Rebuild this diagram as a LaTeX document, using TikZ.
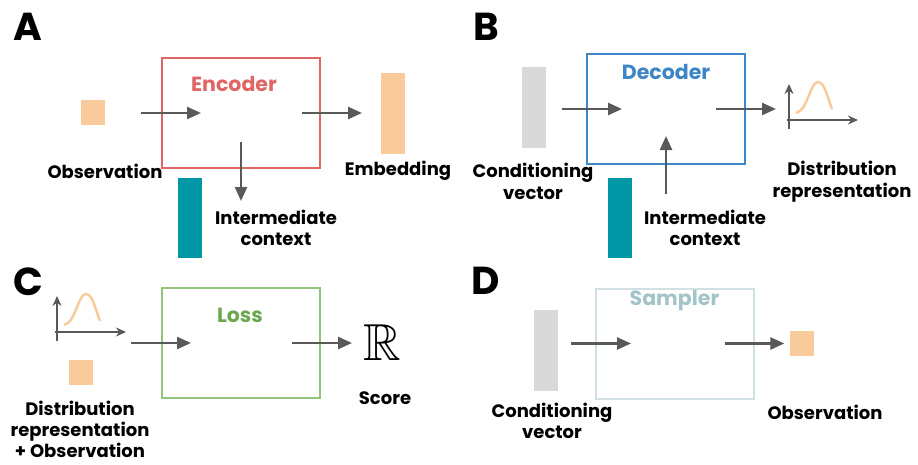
\documentclass[tikz,border=0pt]{standalone}
\usepackage{amsfonts}
\usepackage{fontspec}
\setmainfont{Poppins}
\usepackage{tikz}
\usetikzlibrary{positioning,arrows.meta}

\definecolor{encred}{HTML}{E06666}
\definecolor{decblue}{HTML}{3D85C6}
\definecolor{lossline}{HTML}{93C47D}
\definecolor{losstext}{HTML}{6AA84F}
\definecolor{sampline}{HTML}{D0E0E3}
\definecolor{samptext}{HTML}{A2C4C9}
\definecolor{peach}{HTML}{F9CB9C}
\definecolor{ctxteal}{HTML}{0097A7}
\definecolor{condgray}{HTML}{D9D9D9}
\definecolor{arrowgray}{HTML}{595959}

\tikzset{distplot/.pic={
  \draw[axis] (0,9) -- (0,-36);
  \draw[axis] (-2,0) -- (69,0);
  \draw[peach, line width=2.5pt] (7,-7) .. controls (19,-10) and (21,-38) .. (29,-38)
    .. controls (36,-38) and (39,-20) .. (43,-11);
}}

\begin{document}
\begin{tikzpicture} [x=1pt, y=-1pt,
  every node/.style={inner sep=0pt, align=center},
  label/.style={font=\bfseries\fontsize{18}{21.5}\selectfont},
  panel/.style={font=\bfseries\fontsize{39}{39}\selectfont},
  title/.style={font=\bfseries\fontsize{20.5}{20.5}\selectfont},
  block/.style={draw, line width=2pt, minimum width=158pt, minimum height=110pt},
  bar/.style={minimum width=24pt, minimum height=81pt},
  cell/.style={fill=peach, minimum width=24pt, minimum height=25pt},
  flow/.style={draw=arrowgray, line width=2.5pt, -{Triangle[length=14pt,width=12pt]}},
  axis/.style={draw=arrowgray, line width=2pt, -{Stealth[length=10pt,width=9pt]}}]
\useasboundingbox (0,0) rectangle (918,464);

% A: encoder
\node[panel] (pa) at (28,27) {A};
\node[block, draw=encred] (enc) at (241,113) {};
\node[title, text=encred] (enct) at (234,84) {Encoder};
\node[cell] (obsa) at (93,112.5) {};
\node[bar, fill=peach] (emb) at (393,113.5) {};
\node[bar, fill=ctxteal, minimum height=80pt] (ctxa) at (190,218) {};
\node[label] (obsal) at (105,171) {Observation};
\node[label] (embl) at (398,171) {Embedding};
\node[label] (ctxal) at (276,228) {Intermediate\\context};
\draw[flow] ([xshift=-20pt]enc.west) -- ([xshift=40pt]enc.west);
\draw[flow] ([xshift=-19pt]enc.east) -- ([xshift=41pt]enc.east);
\draw[flow] ([yshift=27pt]enc.south) -- ([yshift=-32pt]enc.south);

% B: decoder
\node[panel] (pb) at (486,27) {B};
\node[block, draw=decblue] (dec) at (666,109) {};
\node[title, text=decblue] (dect) at (666,72) {Decoder};
\node[bar, fill=condgray] (condb) at (534,107.5) {};
\node[bar, fill=ctxteal, minimum height=80pt] (ctxb) at (620,218) {};
\pic at (789,120) {distplot};
\node[label] (condbl) at (533,181.5) {Conditioning\\vector};
\node[label] (ctxbl) at (705,228) {Intermediate\\context};
\node[label] (distl) at (842,181.5) {Distribution\\representation};
\draw[flow] ([xshift=-24pt]dec.west) -- ([xshift=36pt]dec.west);
\draw[flow] ([xshift=-30pt]dec.east) -- ([xshift=30pt]dec.east);
\draw[flow] ([yshift=-29pt]dec.south) -- ([yshift=29pt]dec.south);

% C: loss
\node[panel] (pc) at (28,282) {C};
\node[block, draw=lossline] (loss) at (241,343) {};
\node[title, text=losstext] (losst) at (240,315) {Loss};
\pic at (57,332) {distplot};
\node[cell] (obsc) at (80.5,372.5) {};
\node (score) at (382,343) {\fontsize{52}{52}\selectfont$\mathbb{R}$};
\node[label] (scorel) at (385,398) {Score};
\node[label, font=\bfseries\fontsize{18}{21}\selectfont] (inl) at (80,429) {Distribution\\representation\\+ Observation};
\draw[flow] ([xshift=-30pt]loss.west) -- ([xshift=30pt]loss.west);
\draw[flow, shorten >=11pt] ([xshift=-29pt]loss.east) -- (score.west);

% D: sampler
\node[panel] (pd) at (486,281) {D};
\node[block, draw=sampline] (samp) at (675,343.5) {};
\node[title, text=samptext] (sampt) at (674.5,301) {Sampler};
\node[bar, fill=condgray] (condd) at (546,350.5) {};
\node[cell] (obsd) at (801.5,343.5) {};
\node[label] (conddl) at (552,421) {Conditioning\\vector};
\node[label] (obsdl) at (825,412) {Observation};
\draw[flow] ([xshift=-24pt]samp.west) -- ([xshift=36pt]samp.west);
\draw[flow, shorten >=5pt] ([xshift=-30pt]samp.east) -- (obsd.west);
\end{tikzpicture}
\end{document}
